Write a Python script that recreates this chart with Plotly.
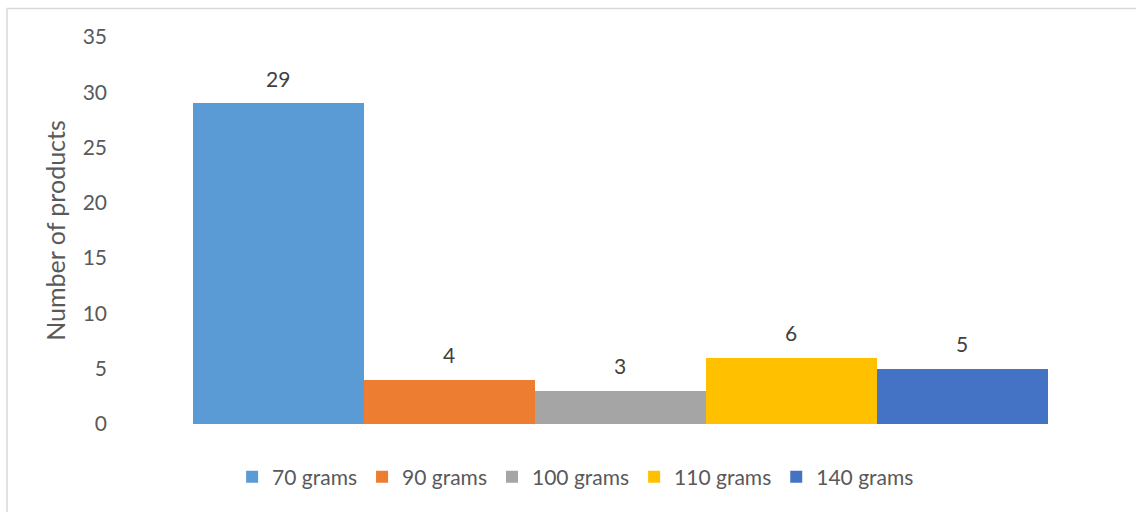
import plotly.graph_objects as go

# Product counts by package weight
weights = ["70 grams", "90 grams", "100 grams", "110 grams", "140 grams"]
counts = [29, 4, 3, 6, 5]
colors = ["#5B9BD5", "#ED7D31", "#A5A5A5", "#FFC000", "#4472C4"]

FONT = "Lato"
TXT = "#595959"

fig = go.Figure()
for i, (name, val, col) in enumerate(zip(weights, counts, colors)):
    fig.add_trace(go.Bar(
        x=[i], y=[val], name=name, width=1,
        marker=dict(color=col, line=dict(width=0)),
        hoverinfo="name+y",
    ))
    # value label above each bar
    fig.add_annotation(
        x=i, y=val, text=str(val), showarrow=False,
        yshift=25, font=dict(family=FONT, size=21, color="#404040"),
        xref="x", yref="y",
    )

# light chart-area border
fig.add_shape(
    type="rect", xref="paper", yref="paper",
    x0=-0.0989, x1=1.02, y0=-0.3, y1=1.0736,
    line=dict(color="#D9D9D9", width=1.5), fillcolor="rgba(0,0,0,0)",
    layer="below",
)

fig.update_layout(
    width=1136, height=512,
    margin=dict(l=108, r=7, t=37, b=88),
    paper_bgcolor="white", plot_bgcolor="white",
    barmode="overlay", bargap=0,
    font=dict(family=FONT, color=TXT),
    showlegend=True,
    legend=dict(
        orientation="h", x=0.458, xref="paper", xanchor="center",
        y=-0.137, yanchor="middle",
        font=dict(family=FONT, size=21, color=TXT),
        itemwidth=30, traceorder="normal",
    ),
    xaxis=dict(
        range=[-0.997, 4.974], showticklabels=False, showgrid=False,
        zeroline=False, showline=False, fixedrange=True,
    ),
    yaxis=dict(
        range=[0, 35], tick0=0, dtick=5, showgrid=False, zeroline=False,
        showline=False, ticks="",
        tickfont=dict(family=FONT, size=21, color=TXT),
        title=dict(text="Number of products", standoff=9,
                   font=dict(family=FONT, size=25, color=TXT)),
    ),
)

fig.write_html("out.html")
